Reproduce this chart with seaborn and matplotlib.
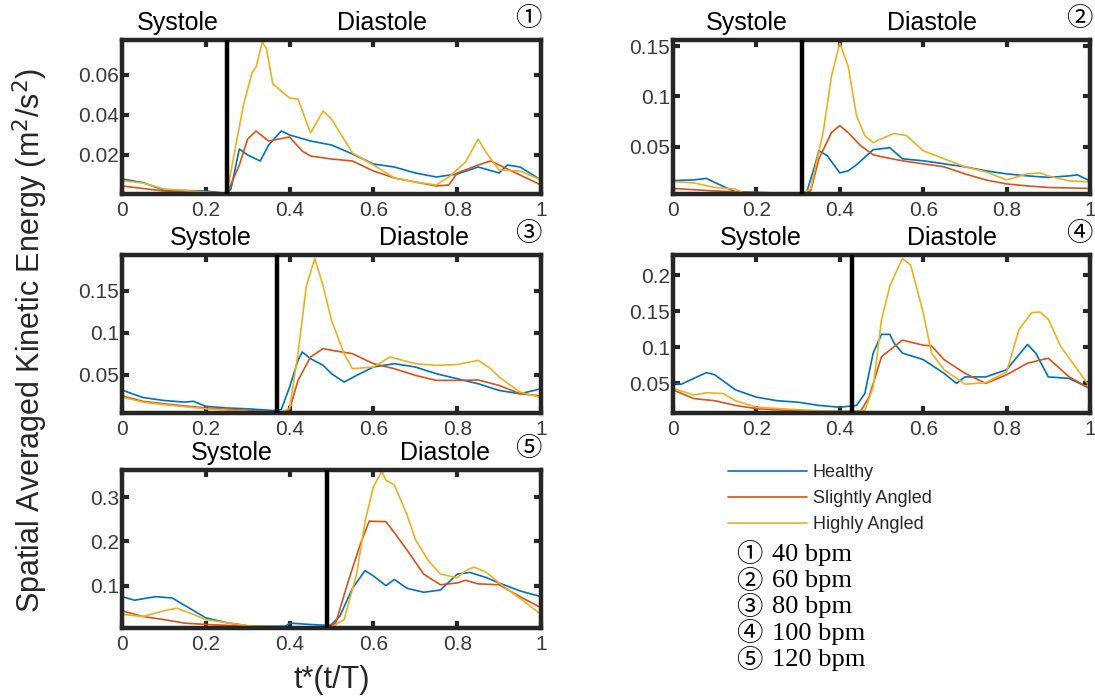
import numpy as np
import pandas as pd
import matplotlib
matplotlib.use("Agg")
import matplotlib.pyplot as plt
import seaborn as sns
from matplotlib.ticker import FuncFormatter
from matplotlib.lines import Line2D

# ---------------- data ----------------
series_names = ["Healthy", "Slightly Angled", "Highly Angled"]
series_colors = ["#0072BD", "#D95319", "#EDB120"]
panel_marks = ["\u2460", "\u2461", "\u2462", "\u2463", "\u2464"]
bpm_labels = ["40 bpm", "60 bpm", "80 bpm", "100 bpm", "120 bpm"]
systole_end = [0.25, 0.31, 0.37, 0.43, 0.49]

# Panel 1 (40 bpm)
p1_h_t = [0, 0.05, 0.1, 0.2, 0.25, 0.26, 0.28, 0.3, 0.33, 0.35, 0.38, 0.4, 0.45, 0.5, 0.55, 0.6, 0.65, 0.7, 0.75, 0.8, 0.85, 0.9, 0.92, 0.95, 1.0]
p1_h_v = [0.008, 0.0062, 0.0025, 0.002, 0.0008, 0.003, 0.023, 0.020, 0.017, 0.025, 0.032, 0.030, 0.027, 0.025, 0.0205, 0.0155, 0.014, 0.011, 0.009, 0.0105, 0.014, 0.011, 0.015, 0.014, 0.0075]
p1_s_t = [0, 0.1, 0.2, 0.25, 0.28, 0.3, 0.32, 0.35, 0.4, 0.43, 0.45, 0.5, 0.55, 0.6, 0.65, 0.7, 0.75, 0.78, 0.8, 0.85, 0.88, 0.92, 1.0]
p1_s_v = [0.0045, 0.002, 0.001, 0.0005, 0.015, 0.028, 0.032, 0.027, 0.029, 0.022, 0.0195, 0.018, 0.017, 0.012, 0.0085, 0.0065, 0.0045, 0.005, 0.011, 0.015, 0.017, 0.013, 0.005]
p1_y_t = [0, 0.05, 0.1, 0.2, 0.25, 0.27, 0.29, 0.31, 0.32, 0.335, 0.345, 0.36, 0.4, 0.42, 0.45, 0.48, 0.5, 0.55, 0.6, 0.65, 0.7, 0.75, 0.78, 0.82, 0.85, 0.87, 0.9, 0.95, 1.0]
p1_y_v = [0.0072, 0.006, 0.003, 0.0015, 0.0005, 0.023, 0.045, 0.061, 0.064, 0.0765, 0.073, 0.0555, 0.0485, 0.048, 0.031, 0.042, 0.038, 0.021, 0.015, 0.0085, 0.0065, 0.005, 0.009, 0.0165, 0.028, 0.021, 0.0125, 0.012, 0.0075]

# Panel 2 (60 bpm)
p2_h_t = [0, 0.05, 0.08, 0.1, 0.15, 0.2, 0.3, 0.32, 0.34, 0.35, 0.37, 0.4, 0.42, 0.44, 0.48, 0.52, 0.55, 0.6, 0.65, 0.7, 0.75, 0.8, 0.85, 0.9, 0.95, 0.97, 1.0]
p2_h_v = [0.0163, 0.017, 0.0185, 0.0145, 0.005, 0.0045, 0.0035, 0.004, 0.031, 0.046, 0.041, 0.024, 0.026, 0.032, 0.047, 0.049, 0.038, 0.036, 0.033, 0.030, 0.026, 0.023, 0.021, 0.0195, 0.021, 0.022, 0.016]
p2_s_t = [0, 0.1, 0.2, 0.31, 0.33, 0.35, 0.38, 0.4, 0.42, 0.45, 0.48, 0.5, 0.55, 0.6, 0.65, 0.7, 0.75, 0.8, 0.85, 0.9, 1.0]
p2_s_v = [0.0085, 0.006, 0.0045, 0.0035, 0.006, 0.038, 0.064, 0.071, 0.064, 0.051, 0.042, 0.040, 0.036, 0.033, 0.030, 0.023, 0.017, 0.013, 0.011, 0.0095, 0.0085]
p2_y_t = [0, 0.05, 0.1, 0.15, 0.17, 0.31, 0.33, 0.36, 0.38, 0.4, 0.42, 0.44, 0.46, 0.48, 0.5, 0.53, 0.56, 0.6, 0.65, 0.7, 0.75, 0.8, 0.85, 0.88, 0.9, 0.95, 1.0]
p2_y_v = [0.0153, 0.014, 0.0095, 0.0078, 0.004, 0.0035, 0.008, 0.064, 0.12, 0.153, 0.13, 0.081, 0.061, 0.054, 0.058, 0.063, 0.061, 0.046, 0.038, 0.030, 0.025, 0.017, 0.023, 0.024, 0.021, 0.016, 0.015]

# Panel 3 (80 bpm)
p3_h_t = [0, 0.05, 0.1, 0.15, 0.17, 0.2, 0.25, 0.3, 0.36, 0.38, 0.4, 0.42, 0.43, 0.45, 0.48, 0.5, 0.53, 0.56, 0.6, 0.65, 0.7, 0.75, 0.8, 0.85, 0.9, 0.95, 1.0]
p3_h_v = [0.0314, 0.0225, 0.019, 0.017, 0.018, 0.012, 0.010, 0.009, 0.007, 0.008, 0.035, 0.067, 0.077, 0.069, 0.061, 0.051, 0.041, 0.049, 0.059, 0.063, 0.059, 0.051, 0.045, 0.039, 0.031, 0.027, 0.033]
p3_s_t = [0, 0.05, 0.1, 0.2, 0.3, 0.38, 0.4, 0.42, 0.45, 0.48, 0.5, 0.55, 0.6, 0.65, 0.7, 0.75, 0.8, 0.85, 0.9, 0.95, 1.0]
p3_s_v = [0.0245, 0.018, 0.015, 0.010, 0.007, 0.005, 0.008, 0.043, 0.071, 0.081, 0.079, 0.075, 0.063, 0.057, 0.049, 0.043, 0.043, 0.0435, 0.037, 0.027, 0.0245]
p3_y_t = [0, 0.05, 0.1, 0.2, 0.3, 0.38, 0.4, 0.42, 0.44, 0.46, 0.48, 0.5, 0.53, 0.55, 0.6, 0.64, 0.7, 0.75, 0.8, 0.85, 0.88, 0.9, 0.95, 1.0]
p3_y_v = [0.023, 0.017, 0.014, 0.009, 0.006, 0.0045, 0.010, 0.075, 0.156, 0.189, 0.156, 0.115, 0.075, 0.057, 0.059, 0.071, 0.063, 0.061, 0.062, 0.067, 0.057, 0.047, 0.029, 0.0225]

# Panel 4 (100 bpm)
p4_h_t = [0, 0.02, 0.05, 0.08, 0.1, 0.15, 0.2, 0.25, 0.3, 0.35, 0.4, 0.44, 0.46, 0.48, 0.5, 0.52, 0.53, 0.55, 0.6, 0.65, 0.68, 0.7, 0.75, 0.8, 0.85, 0.87, 0.9, 0.95, 1.0]
p4_h_v = [0.05, 0.049, 0.057, 0.065, 0.062, 0.041, 0.031, 0.026, 0.024, 0.0195, 0.017, 0.0195, 0.036, 0.092, 0.118, 0.118, 0.106, 0.092, 0.083, 0.064, 0.05, 0.059, 0.059, 0.069, 0.104, 0.092, 0.059, 0.057, 0.043]
p4_s_t = [0, 0.05, 0.1, 0.15, 0.2, 0.3, 0.4, 0.45, 0.47, 0.5, 0.55, 0.6, 0.62, 0.65, 0.7, 0.75, 0.8, 0.85, 0.9, 0.95, 1.0]
p4_s_v = [0.041, 0.029, 0.026, 0.0195, 0.015, 0.012, 0.011, 0.0115, 0.031, 0.087, 0.110, 0.103, 0.102, 0.083, 0.064, 0.05, 0.062, 0.078, 0.085, 0.059, 0.043]
p4_y_t = [0, 0.05, 0.08, 0.12, 0.15, 0.2, 0.3, 0.4, 0.46, 0.48, 0.5, 0.52, 0.55, 0.57, 0.6, 0.62, 0.65, 0.7, 0.75, 0.8, 0.83, 0.86, 0.88, 0.9, 0.93, 0.97, 1.0]
p4_y_v = [0.043, 0.034, 0.037, 0.036, 0.026, 0.017, 0.0135, 0.011, 0.012, 0.045, 0.138, 0.185, 0.223, 0.214, 0.148, 0.092, 0.069, 0.049, 0.051, 0.066, 0.125, 0.148, 0.149, 0.139, 0.101, 0.069, 0.045]

# Panel 5 (120 bpm)
p5_h_t = [0, 0.03, 0.08, 0.12, 0.15, 0.2, 0.25, 0.3, 0.35, 0.39, 0.4, 0.45, 0.49, 0.5, 0.52, 0.55, 0.58, 0.6, 0.63, 0.65, 0.68, 0.72, 0.76, 0.8, 0.83, 0.87, 0.9, 0.95, 1.0]
p5_h_v = [0.075, 0.067, 0.075, 0.072, 0.055, 0.027, 0.016, 0.009, 0.008, 0.008, 0.015, 0.012, 0.010, 0.012, 0.031, 0.094, 0.134, 0.122, 0.100, 0.114, 0.094, 0.085, 0.090, 0.126, 0.130, 0.118, 0.106, 0.088, 0.075]
p5_s_t = [0, 0.05, 0.1, 0.15, 0.2, 0.3, 0.4, 0.49, 0.51, 0.54, 0.57, 0.59, 0.63, 0.65, 0.68, 0.72, 0.76, 0.8, 0.82, 0.85, 0.9, 0.95, 1.0]
p5_s_v = [0.043, 0.030, 0.023, 0.015, 0.012, 0.008, 0.006, 0.0055, 0.015, 0.110, 0.197, 0.246, 0.245, 0.220, 0.181, 0.126, 0.102, 0.106, 0.112, 0.104, 0.102, 0.075, 0.050]
p5_y_t = [0, 0.05, 0.1, 0.13, 0.17, 0.2, 0.25, 0.3, 0.4, 0.5, 0.53, 0.56, 0.58, 0.6, 0.62, 0.63, 0.65, 0.68, 0.7, 0.73, 0.76, 0.8, 0.82, 0.84, 0.87, 0.9, 0.95, 1.0]
p5_y_v = [0.035, 0.030, 0.043, 0.049, 0.035, 0.023, 0.016, 0.009, 0.006, 0.0055, 0.023, 0.126, 0.245, 0.324, 0.359, 0.339, 0.328, 0.261, 0.205, 0.158, 0.126, 0.118, 0.134, 0.142, 0.130, 0.106, 0.071, 0.035]

y_ticks = [[0.02, 0.04, 0.06], [0.05, 0.1, 0.15], [0.05, 0.1, 0.15],
           [0.05, 0.1, 0.15, 0.2], [0.1, 0.2, 0.3]]
y_limits = [(0.0005, 0.0775), (0.003, 0.156), (0.004, 0.193), (0.009, 0.228), (0.004, 0.362)]
x_ticks = [0, 0.2, 0.4, 0.6, 0.8, 1.0]

panel_data = [
    [(p1_h_t, p1_h_v), (p1_s_t, p1_s_v), (p1_y_t, p1_y_v)],
    [(p2_h_t, p2_h_v), (p2_s_t, p2_s_v), (p2_y_t, p2_y_v)],
    [(p3_h_t, p3_h_v), (p3_s_t, p3_s_v), (p3_y_t, p3_y_v)],
    [(p4_h_t, p4_h_v), (p4_s_t, p4_s_v), (p4_y_t, p4_y_v)],
    [(p5_h_t, p5_h_v), (p5_s_t, p5_s_v), (p5_y_t, p5_y_v)],
]

rows = []
for pi, pdat in enumerate(panel_data):
    for si, (tt, vv) in enumerate(pdat):
        for t, v in zip(tt, vv):
            rows.append({"panel": pi, "series": series_names[si], "t": t, "value": v})
df = pd.DataFrame(rows)

# ---------------- figure ----------------
sns.set_theme(style="white")
plt.rcParams["font.family"] = ["Liberation Sans", "DejaVu Sans"]

fig = plt.figure(figsize=(10.95, 7.0), dpi=100)

W, H = 1095.0, 700.0
boxes_px = [(122, 40, 541, 194), (673, 40, 1090, 194),
            (122, 255, 541, 413), (673, 255, 1090, 413),
            (122, 470, 541, 628)]
sys_pos = [0.134, 0.177, 0.212, 0.21, 0.263]
dia_pos = [0.62, 0.62, 0.72, 0.67, 0.77]
mark_x = [1.0, 1.005, 1.0, 1.005, 1.0]
dark = "#262626"
fmt = FuncFormatter(lambda v, p: "%g" % v)
palette = dict(zip(series_names, series_colors))
mark_fam = ["Noto Sans CJK JP", "DejaVu Sans"]

for pi, (x0, y0, x1, y1) in enumerate(boxes_px):
    ax = fig.add_axes([x0 / W, 1 - y1 / H, (x1 - x0) / W, (y1 - y0) / H])
    sub = df[df["panel"] == pi]
    sns.lineplot(data=sub, x="t", y="value", hue="series", hue_order=series_names,
                 palette=palette, estimator=None, sort=True, legend=False,
                 linewidth=1.2, ax=ax)
    ax.axvline(systole_end[pi], color="black", linewidth=3.2, zorder=5)
    ax.set_xlim(0, 1)
    ax.set_ylim(*y_limits[pi])
    ax.set_xticks(x_ticks)
    ax.set_yticks(y_ticks[pi])
    ax.xaxis.set_major_formatter(fmt)
    ax.yaxis.set_major_formatter(fmt)
    ax.set_xlabel("")
    ax.set_ylabel("")
    for s in ax.spines.values():
        s.set_linewidth(3.2)
        s.set_color(dark)
        s.set_visible(True)
    ax.tick_params(direction="in", length=5, width=3, colors=dark,
                   top=True, right=True, bottom=True, left=True,
                   labelsize=15, labelcolor="#3a3a3a")
    ax.tick_params(axis="y", pad=2)
    ax.tick_params(axis="x", pad=5)
    ax.text(sys_pos[pi], 1.03, "Systole", transform=ax.transAxes,
            ha="center", va="bottom", fontsize=18, color="black")
    ax.text(dia_pos[pi], 1.03, "Diastole", transform=ax.transAxes,
            ha="center", va="bottom", fontsize=18, color="black")
    ax.text(mark_x[pi], 1.05, panel_marks[pi], transform=ax.transAxes,
            ha="right", va="bottom", fontsize=19, color="black",
            family=mark_fam, clip_on=False)

fig.text(0.028, 0.514, "Spatial Averaged Kinetic Energy (m$^2$/s$^2$)",
         rotation=90, ha="center", va="center", fontsize=22, color="#262626")
fig.text(0.303, 0.028, "t*(t/T)", ha="center", va="center", fontsize=22,
         color="#262626")

handles = [Line2D([0], [0], color=c, linewidth=1.2) for c in series_colors]
fig.legend(handles, series_names, loc="upper left",
           bbox_to_anchor=(728 / W, 1 - 464 / H), frameon=False,
           fontsize=13, handlelength=4.4, labelspacing=0.5,
           handletextpad=0.3, borderaxespad=0, borderpad=0)

for i, (m, b) in enumerate(zip(panel_marks, bpm_labels)):
    yy = 1 - (555 + i * 26.25) / H
    fig.text(736 / W, yy, m, ha="left", va="center", fontsize=19,
             family=mark_fam, color="black")
    fig.text(772 / W, yy, b, ha="left", va="center", fontsize=19,
             family=["Liberation Serif", "DejaVu Serif"], color="black")

fig.savefig("out.png", dpi=100)
